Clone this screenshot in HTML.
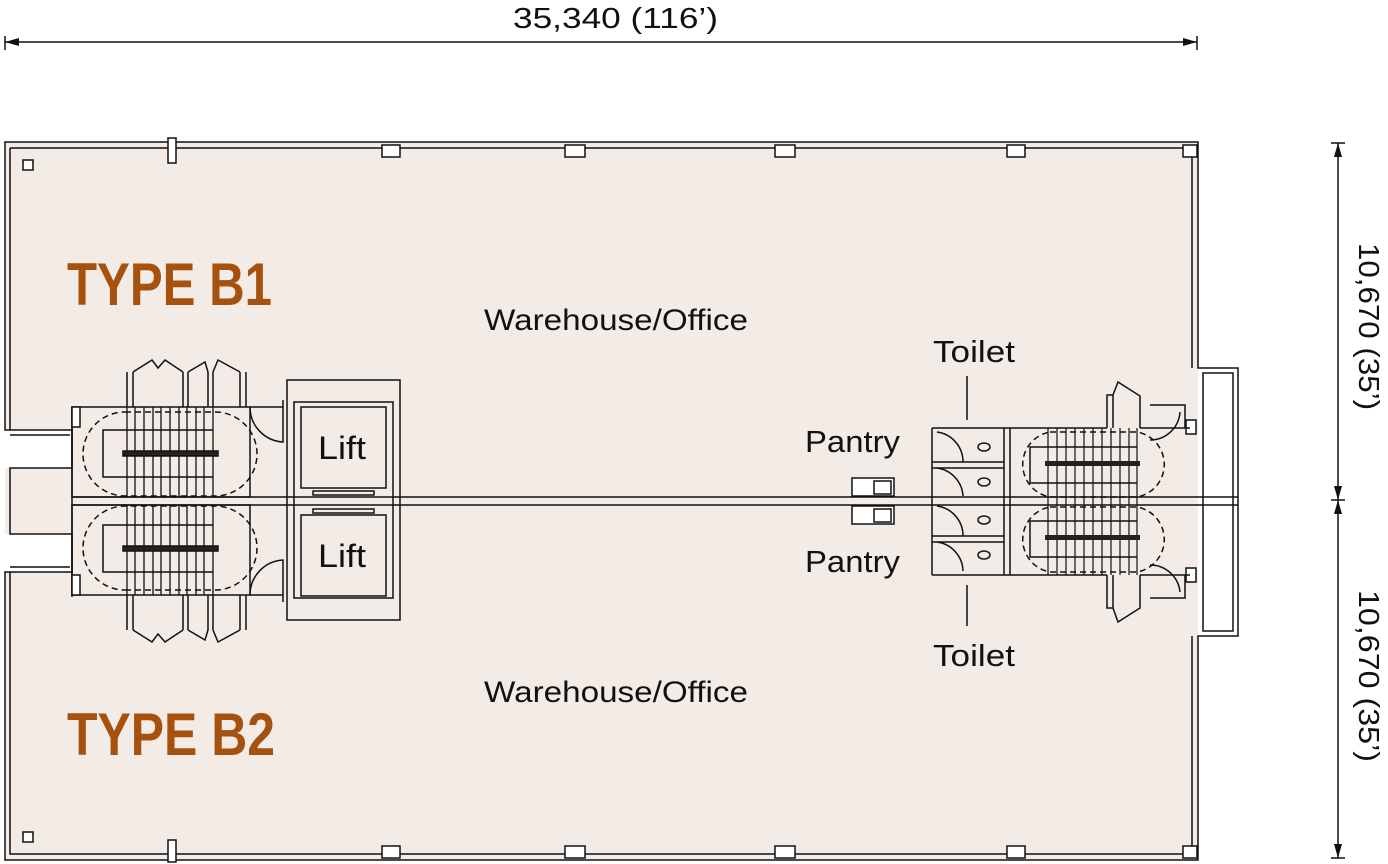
<!DOCTYPE html>
<html><head><meta charset="utf-8"><style>
html,body{margin:0;padding:0;background:#fff;width:1388px;height:864px;overflow:hidden}
svg{display:block}
text{font-family:"Liberation Sans",sans-serif;fill:#111}
.t{font-family:"Liberation Sans Narrow","Liberation Sans",sans-serif;font-weight:bold;fill:#a6520e}
</style></head><body>
<svg width="1388" height="864" viewBox="0 0 1388 864" xmlns="http://www.w3.org/2000/svg">
<defs>
<g id="stairL" stroke="#111" fill="none" stroke-width="1.5">
  <rect x="72" y="407" width="178" height="90" fill="none"/>
  <path d="M125 412 H215 A42 42 0 0 1 215 496 H125 A42 42 0 0 1 125 412" stroke-dasharray="6,4"/>
  <path d="M213 430 H103 V477 H213"/>
  <g stroke-width="1.3">
    <path d="M127 407V497M135 407V497M144 407V497M153 407V497M161 407V497M170 407V497M179 407V497M187 407V497M196 407V497M204 407V497M213 407V497"/>
  </g>
  <rect x="123" y="451" width="95" height="5" fill="#222"/>
  <path d="M127 372V407M133 372V407M183 372V407M188 372V407M208 372V407M213 372V407M240 372V407M246 372V407M133 372L152 360L158 368L165 360L183 372M188 372L205 362L208 372M213 372L218 360L240 372"/>
  <path d="M250 407 H283 M283 400 V442 A35 35 0 0 1 250 407"/>
  <rect x="72" y="407" width="8" height="20" fill="#fff"/>
</g>
</defs>
<text x="513" y="28" font-size="29" textLength="205" lengthAdjust="spacingAndGlyphs">35,340 (116’)</text>
<line x1="5" y1="42" x2="1197" y2="42" stroke="#111" stroke-width="1.5"/>
<path d="M5 36V50M1197 36V50" stroke="#111" stroke-width="1.5"/>
<path d="M5 42l14-4v8zM1197 42l-14-4v8z" fill="#111"/>
<line x1="1338" y1="143" x2="1338" y2="858" stroke="#111" stroke-width="1.5"/>
<path d="M1331 143H1345M1331 500H1345M1331 858H1345" stroke="#111" stroke-width="1.5"/>
<path d="M1338 143l-4 14h8zM1338 500l-4-14h8zM1338 500l-4 14h8zM1338 858l-4-14h8z" fill="#111"/>
<text transform="translate(1359,243) rotate(90)" font-size="29" textLength="167" lengthAdjust="spacingAndGlyphs">10,670 (35’)</text>
<text transform="translate(1359,590) rotate(90)" font-size="29" textLength="172" lengthAdjust="spacingAndGlyphs">10,670 (35’)</text>
<rect x="5" y="142" width="1193" height="718" fill="#f3ebe5"/>
<rect x="0" y="430" width="72" height="38" fill="#fff"/>
<rect x="0" y="534" width="72" height="38" fill="#fff"/>
<rect x="1198" y="368" width="40" height="268" fill="#fff"/>
<g stroke="#111" fill="none" stroke-width="1.5">
  <path d="M5 142H1198V368H1238V636H1198V860H5V572H72V534H10V468H72V430H5Z"/>
  <path d="M10 148H1192V368M10 148V430M10 572V854H1192V636"/>
  <path d="M1203 373H1233V631H1203Z"/>
  <path d="M10 435H70M10 567H70"/>
  <path d="M72 497H1238M72 505H1238"/>
  <path d="M72 407V597"/>
</g>
<g fill="#fff" stroke="#111" stroke-width="1.5">
  <rect x="168" y="138" width="8" height="25"/><rect x="382" y="145" width="18" height="12"/>
  <rect x="565" y="145" width="20" height="12"/><rect x="775" y="145" width="20" height="12"/>
  <rect x="1007" y="145" width="18" height="12"/><rect x="1183" y="145" width="14" height="12"/>
  <rect x="168" y="840" width="8" height="22"/><rect x="382" y="846" width="18" height="12"/>
  <rect x="565" y="846" width="20" height="12"/><rect x="775" y="846" width="20" height="12"/>
  <rect x="1007" y="846" width="18" height="12"/><rect x="1183" y="846" width="14" height="12"/>
  <rect x="23" y="160" width="10" height="10"/><rect x="23" y="832" width="10" height="10"/>
  <rect x="1186" y="420" width="10" height="14"/><rect x="1186" y="568" width="10" height="14"/>
</g>
<use href="#stairL"/>
<use href="#stairL" transform="translate(0,1002) scale(1,-1)"/>
<g stroke="#111" fill="none" stroke-width="1.5">
  <rect x="287" y="380" width="113" height="240"/>
  <rect x="294" y="402" width="99" height="196"/>
  <rect x="301" y="407" width="85" height="81"/>
  <rect x="301" y="515" width="85" height="81"/>
  <rect x="313" y="491" width="61" height="4"/>
  <rect x="313" y="509" width="61" height="4"/>
</g>
<text x="318" y="459" font-size="32" textLength="48" lengthAdjust="spacingAndGlyphs">Lift</text>
<text x="318" y="567" font-size="32" textLength="48" lengthAdjust="spacingAndGlyphs">Lift</text>
<g stroke="#111" fill="#fff" stroke-width="1.5">
  <rect x="852" y="478" width="42" height="18"/><rect x="852" y="506" width="42" height="18"/>
  <rect x="874" y="481" width="17" height="13"/><rect x="874" y="509" width="17" height="13"/>
</g>
<g stroke="#111" fill="none" stroke-width="1.5">
  <path d="M932 428H1107M1140 428H1190M932 575H1107M1140 575H1190M932 428V575M1010 428V575M1004 428V575"/>
  <path d="M932 462H1004M932 468H1004M932 536H1004M932 542H1004"/>
  <path d="M937 432A30 30 0 0 1 963 462M937 468A30 30 0 0 1 963 496M937 506A30 30 0 0 1 963 536M937 542A30 30 0 0 1 963 571"/>
  <ellipse cx="984" cy="447" rx="6" ry="4"/><ellipse cx="984" cy="482" rx="6" ry="4"/>
  <ellipse cx="984" cy="520" rx="6" ry="4"/><ellipse cx="984" cy="555" rx="6" ry="4"/>
  <path d="M967 376V420M967 585V626"/>
  <path d="M1137 447H1030V483H1137M1137 521H1030V557H1137"/>
  <path d="M1050 432H1137 A33 33 0 0 1 1137 497 H1050 A33 33 0 0 1 1050 432M1050 507H1137 A33 33 0 0 1 1137 572 H1050 A33 33 0 0 1 1050 507" stroke-dasharray="6,4"/>
  <path d="M1048 428V575M1057 428V575M1066 428V575M1075 428V575M1084 428V575M1093 428V575M1102 428V575M1111 428V575M1120 428V575M1129 428V575M1137 428V575" stroke-width="1.2"/>
  <path d="M1107 428V395H1113V428M1113 395L1118 382L1140 396V428M1107 575V608H1113V575M1113 608L1118 622L1140 608V575"/>
  <path d="M1150 405H1185V428M1150 440A30 30 0 0 0 1180 412M1150 598H1185V575M1150 565A30 30 0 0 1 1180 592"/>
</g>
<rect x="1045" y="461" width="95" height="5" fill="#222"/>
<rect x="1045" y="535" width="95" height="5" fill="#222"/>
<text class="t" x="67" y="305" font-size="60" textLength="205" lengthAdjust="spacingAndGlyphs">TYPE B1</text>
<text class="t" x="67" y="755" font-size="60" textLength="208" lengthAdjust="spacingAndGlyphs">TYPE B2</text>
<text x="484" y="330" font-size="30" textLength="264" lengthAdjust="spacingAndGlyphs">Warehouse/Office</text>
<text x="484" y="702" font-size="30" textLength="264" lengthAdjust="spacingAndGlyphs">Warehouse/Office</text>
<text x="805" y="452" font-size="31" textLength="95" lengthAdjust="spacingAndGlyphs">Pantry</text>
<text x="805" y="572" font-size="31" textLength="95" lengthAdjust="spacingAndGlyphs">Pantry</text>
<text x="933" y="362" font-size="31" textLength="82" lengthAdjust="spacingAndGlyphs">Toilet</text>
<text x="933" y="666" font-size="31" textLength="82" lengthAdjust="spacingAndGlyphs">Toilet</text>
</svg>
</body></html>
